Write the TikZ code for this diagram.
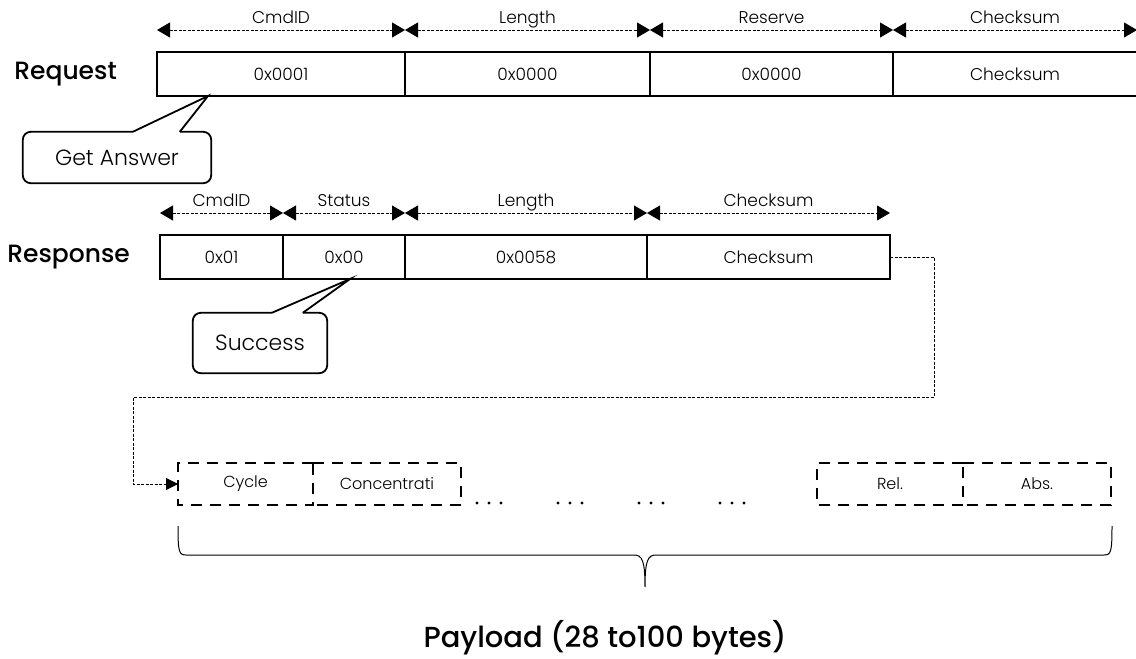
\documentclass[tikz,border=0pt]{standalone}
\usepackage{fontspec}
\setmainfont{Poppins}
\newfontfamily\thinfont{Poppins Light}
\newfontfamily\headfont{Poppins Medium}
\usetikzlibrary{positioning,arrows.meta,calc}
\tikzset{
  cell/.style={draw, line width=2.2pt, outer sep=0pt, inner sep=0pt, minimum height=44pt, font=\thinfont\fontsize{17}{19}\selectfont},
  slotline/.style={line width=2.5pt, dash pattern=on 11pt off 8pt},
  slot/.style={outer sep=0pt, inner sep=0pt, minimum height=42pt, font=\thinfont\fontsize{16}{18}\selectfont},
  span/.style={dash pattern=on 3pt off 1.5pt, line width=0.9pt, {Triangle[length=13pt,width=15pt]}-{Triangle[length=13pt,width=15pt]}},
  spanlabel/.style={above=2pt, inner sep=1pt, text height=12pt, text depth=3pt, font=\thinfont\fontsize{17}{19}\selectfont},
  rowlabel/.style={inner sep=0pt, font=\headfont\fontsize{25}{27}\selectfont},
  bubble/.style={inner sep=0pt, font=\thinfont\fontsize{22}{24}\selectfont},
  bubbleline/.style={line width=1.8pt},
  link/.style={dash pattern=on 3pt off 1.5pt, line width=0.9pt, -{Triangle[length=12pt,width=12pt]}}
}
\begin{document}
\begin{tikzpicture}[x=1pt,y=-1pt]
    \useasboundingbox (0,0) rectangle (1136,659);
    % 请求帧
    \node[cell, anchor=west, minimum width=248pt] (rq1) at (157,74) {0x0001};
    \node[cell, right=0pt of rq1, minimum width=245pt] (rq2) {0x0000};
    \node[cell, right=0pt of rq2, minimum width=243pt] (rq3) {0x0000};
    \node[cell, right=0pt of rq3, minimum width=244pt] (rq4) {Checksum};
    \node[rowlabel, left=40pt of rq1] (req) {Request};
    \foreach \c/\t in {rq1/CmdID, rq2/Length, rq3/Reserve, rq4/Checksum}
        \draw[span] ([yshift=22pt]\c.north west) -- node[spanlabel] {\t} ([yshift=22pt]\c.north east);
    % 应答帧
    \node[cell, anchor=west, minimum width=123pt] (rs1) at (160,257) {0x01};
    \node[cell, right=0pt of rs1, minimum width=122pt] (rs2) {0x00};
    \node[cell, right=0pt of rs2, minimum width=242pt] (rs3) {0x0058};
    \node[cell, right=0pt of rs3, minimum width=243pt] (rs4) {Checksum};
    \node[rowlabel, left=30pt of rs1] (resp) {Response};
    \foreach \c/\t in {rs1/CmdID, rs2/Status, rs3/Length, rs4/Checksum}
        \draw[span] ([yshift=22pt]\c.north west) -- node[spanlabel] {\t} ([yshift=22pt]\c.north east);
    % 标注框
    \node[bubble, minimum width=188pt, minimum height=51pt] (ans) at (117,157.5) {Get Answer};
    \draw[bubbleline, rounded corners=8pt] ($(ans.north west)+(110,0)$) -- (ans.north west) -- (ans.south west)
        -- (ans.south east) -- (ans.north east) -- ($(ans.north west)+(157,0)$);
    \draw[bubbleline] ($(ans.north west)+(110,0)$) -- ([xshift=51pt]rq1.south west) -- ($(ans.north west)+(157,0)$);
    \node[bubble, minimum width=134pt, minimum height=60pt] (ok) at (260,343) {Success};
    \draw[bubbleline, rounded corners=8pt] ($(ok.north west)+(79,0)$) -- (ok.north west) -- (ok.south west)
        -- (ok.south east) -- (ok.north east) -- ($(ok.north west)+(110,0)$);
    \draw[bubbleline] ($(ok.north west)+(79,0)$) -- ([xshift=67pt]rs2.south west) -- ($(ok.north west)+(110,0)$);
    % 数据区
    \node[slot, anchor=west, minimum width=135pt] (sl1) at (178,484) {Cycle};
    \node[slot, right=0pt of sl1, minimum width=148pt] (sl2) {Concentrati};
    \node[slot, anchor=west, minimum width=146pt] (sl3) at (817,484) {Rel.};
    \node[slot, right=0pt of sl3, minimum width=148pt] (sl4) {Abs.};
    \foreach \a/\b in {sl1/sl2, sl3/sl4} {
        \draw[slotline] (\a.north east) -- (\a.north west) -- (\a.south west) -- (\a.south east) -- cycle;
        \draw[slotline] (\b.north west) -- (\b.north east) -- (\b.south east) -- (\b.south west);
    }
    \foreach \x in {489,570,651,732}
        \foreach \d in {-12,0,12}
            \fill (\x+\d,503) circle (1.6pt);
    \coordinate (turnR) at (934,397);
    \coordinate (turnL) at (133,397);
    \draw[link] (rs4.east) -| (turnR) -- (turnL) |- (sl1.west);
    % 大括号
    \coordinate (brL) at (178,526);
    \coordinate (brR) at (1112,526);
    \coordinate (brT) at (645,587);
    \draw[line width=1pt] (brL) .. controls (178,552) and (179,555) .. (186,555) -- (634,555)
        .. controls (642,555) and (645,560) .. (brT) .. controls (645,560) and (648,555) .. (656,555)
        -- (1104,555) .. controls (1111,555) and (1112,552) .. (brR);
    \node[rowlabel, font=\headfont\fontsize{29}{31}\selectfont] (pay) at (605,638) {Payload (28 to100 bytes)};
\end{tikzpicture}
\end{document}
